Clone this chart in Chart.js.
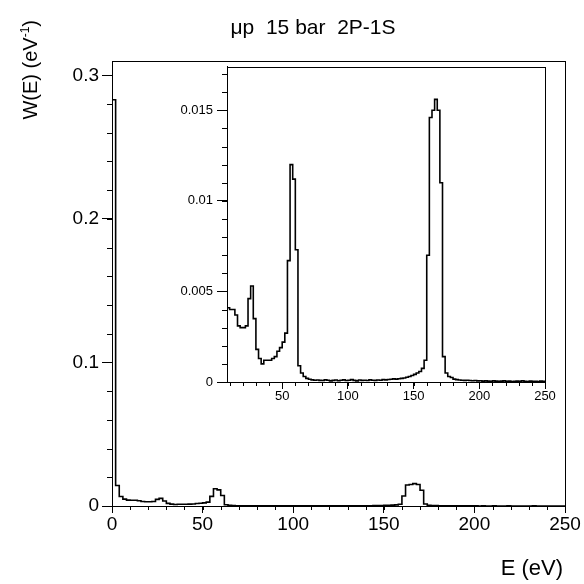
<!DOCTYPE html>
<html>
<head>
<meta charset="utf-8">
<script src="https://cdn.jsdelivr.net/npm/chart.js@4.4.1/dist/chart.umd.min.js"></script>
<style>
  body { margin: 0; background: #fff; }
  #wrap { position: relative; width: 584px; height: 584px; font-family: "Liberation Sans", Arial, sans-serif; color: #000; }
  #main { position: absolute; left: 0; top: 0; }
  #inset { position: absolute; left: 150px; top: 55px; }
  .txt { position: absolute; white-space: pre; line-height: 1; font-size: 20px; }
  #title { left: 0; width: 626px; top: 16px; text-align: center; font-size: 21px; }
  #ytitle { left: -68px; top: 108px; width: 200px; height: 24px; text-align: right; transform: rotate(-90deg); }
  #xtitle { left: 363px; width: 200px; top: 557px; text-align: right; font-size: 22px; }
  sup { font-size: 12px; vertical-align: 8px; line-height: 0; }
</style>
</head>
<body>
<div id="wrap">
  <canvas id="main" width="584" height="584"></canvas>
  <canvas id="inset" width="410" height="355"></canvas>
  <div class="txt" id="title">μp  15 bar  2P-1S</div>
  <div class="txt" id="ytitle">W(E) (eV<sup>-1</sup>)</div>
  <div class="txt" id="xtitle">E (eV)</div>
</div>
<script>
// energy axis of the histogram (eV), 2 eV bins
const energyRange = [0, 250];
const insetRange = [8, 250];

// W(E) per bin
const wValues = [
  0.283, 0.0143, 0.0066, 0.0048, 0.0041, 0.0040, 0.0040, 0.0037, 0.0031, 0.0030,
  0.0030, 0.0031, 0.0046, 0.0053, 0.0035, 0.0018, 0.0013, 0.0010, 0.0012, 0.0012,
  0.0012, 0.0013, 0.0014, 0.0017, 0.0019, 0.0022, 0.0027, 0.0067, 0.0120, 0.0112,
  0.0073, 0.0009, 0.0005, 0.0003, 0.0002, 0.00015, 0.00012, 0.00010, 0.00011, 0.00009,
  0.00008, 0.00012, 0.00010, 0.00006, 0.00009, 0.00011, 0.00007, 0.00010, 0.00012, 0.00008,
  0.00010, 0.00013, 0.00009, 0.00006, 0.00011, 0.00009, 0.00010, 0.00008, 0.00012, 0.00010,
  0.00009, 0.00011, 0.00010, 0.00013, 0.00012, 0.00014, 0.00015, 0.00017, 0.00016, 0.00018,
  0.00020, 0.00022, 0.00026, 0.00030, 0.00036, 0.00042, 0.00050, 0.00058, 0.00075, 0.0012,
  0.0070, 0.0146, 0.0150, 0.0156, 0.0150, 0.0110, 0.0014, 0.0005, 0.0003, 0.00025,
  0.00016, 0.00013, 0.00011, 0.00010, 0.00009, 0.00010, 0.00008, 0.00007, 0.00008, 0.00006,
  0.00007, 0.00005, 0.00006, 0.00005, 0.00004, 0.00006, 0.00005, 0.00004, 0.00005, 0.00006,
  0.00004, 0.00005, 0.00003, 0.00004, 0.00005, 0.00004, 0.00006, 0.00004, 0.00003, 0.00005,
  0.00004, 0.00004, 0.00003, 0.00005, 0.00004
];

const mainXTicks = [0, 50, 100, 150, 200, 250];
const mainYTicks = [0, 0.1, 0.2, 0.3];
const insetXTicks = [50, 100, 150, 200, 250];
const insetYTicks = [0, 0.005, 0.01, 0.015];
const mainYMax = 0.31;
const insetYMax = 0.0174;

// histogram outline as step points (left edge of every bin carries its value)
function stepPoints(values, lo, hi, fromZero) {
  const w = (energyRange[1] - energyRange[0]) / values.length;
  const pts = [];
  if (fromZero) pts.push({ x: lo, y: 0 });
  let last = 0;
  values.forEach((v, i) => {
    const x0 = energyRange[0] + i * w;
    if (x0 + w <= lo || x0 >= hi) return;
    pts.push({ x: Math.max(x0, lo), y: v });
    last = v;
  });
  pts.push({ x: hi, y: last });
  return pts;
}

// frame box + short minor ticks, ROOT style
const rootFrame = {
  id: 'rootFrame',
  beforeDraw(chart, args, opts) {
    if (!opts.fill) return;
    const a = chart.chartArea;
    chart.ctx.save();
    chart.ctx.fillStyle = '#fff';
    chart.ctx.fillRect(a.left, a.top, a.width, a.height);
    chart.ctx.restore();
  },
  afterDraw(chart, args, opts) {
    const { ctx, chartArea: a, scales: { x, y } } = chart;
    ctx.save();
    ctx.strokeStyle = '#000';
    ctx.lineWidth = 1;
    ctx.strokeRect(Math.round(a.left) + 0.5, Math.round(a.top) + 0.5,
      Math.round(a.width), Math.round(a.height));
    ctx.beginPath();
    for (let i = Math.ceil(x.min / opts.xMinor); i * opts.xMinor <= x.max + 1e-9; i++) {
      const px = Math.round(x.getPixelForValue(i * opts.xMinor)) + 0.5;
      ctx.moveTo(px, a.bottom);
      ctx.lineTo(px, a.bottom + opts.xMinorLen);
    }
    for (let i = 0; i * opts.yMinor <= y.max + 1e-12; i++) {
      const py = Math.round(y.getPixelForValue(i * opts.yMinor)) + 0.5;
      ctx.moveTo(a.left, py);
      ctx.lineTo(a.left - opts.yMinorLen, py);
    }
    ctx.stroke();
    ctx.restore();
  }
};

function axis(min, max, ticks, fontSize, tickLen, pad, fitSize, horizontal) {
  return {
    type: 'linear',
    min: min,
    max: max,
    afterBuildTicks: s => { s.ticks = ticks.map(v => ({ value: v })); },
    afterFit: s => { if (horizontal) s.height = fitSize; else s.width = fitSize; },
    grid: { drawOnChartArea: false, drawTicks: true, tickLength: tickLen, color: '#000', lineWidth: 1 },
    border: { display: true, color: '#000', width: 1 },
    ticks: {
      autoSkip: false,
      maxRotation: 0,
      padding: pad,
      color: '#000',
      font: { family: '"Liberation Sans", Arial, sans-serif', size: fontSize },
      callback: v => String(v)
    }
  };
}

function histChart(id, lo, hi, yMax, xTicks, yTicks, opt) {
  return new Chart(document.getElementById(id), {
    type: 'line',
    data: {
      datasets: [{
        data: stepPoints(wValues, lo, hi, opt.fromZero),
        stepped: 'before',
        borderColor: '#000',
        borderWidth: 1.6,
        pointRadius: 0,
        fill: false
      }]
    },
    options: {
      responsive: false,
      animation: false,
      events: [],
      layout: { padding: opt.padding },
      plugins: {
        legend: { display: false },
        tooltip: { enabled: false },
        rootFrame: { fill: opt.fill, xMinor: opt.xMinor, yMinor: opt.yMinor, xMinorLen: 4, yMinorLen: 5 }
      },
      scales: {
        x: axis(lo, hi, xTicks, opt.fontSize, 7, opt.xPad, opt.xFit, true),
        y: axis(0, yMax, yTicks, opt.fontSize, 10, opt.yPad, opt.yFit, false)
      }
    },
    plugins: [rootFrame]
  });
}

histChart('main', energyRange[0], energyRange[1], mainYMax, mainXTicks, mainYTicks, {
  fromZero: true, fill: false, xMinor: 10, yMinor: 0.02,
  fontSize: 19, xPad: 0, yPad: 3, xFit: 78, yFit: 112,
  padding: { top: 61, right: 19, left: 0, bottom: 0 }
});

histChart('inset', insetRange[0], insetRange[1], insetYMax, insetXTicks, insetYTicks, {
  fromZero: false, fill: true, xMinor: 10, yMinor: 0.001,
  fontSize: 13, xPad: 0, yPad: 4, xFit: 28, yFit: 77,
  padding: { top: 8, right: 15, left: 0, bottom: 0 }
});
</script>
</body>
</html>
